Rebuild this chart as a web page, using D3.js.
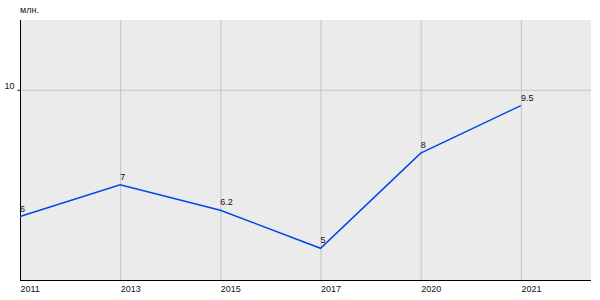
<!DOCTYPE html>
<html>
<head>
<meta charset="utf-8">
<script src="https://cdn.jsdelivr.net/npm/d3@7"></script>
<style>
  body { margin: 0; background: #fff; }
  text { font-family: "Liberation Sans", Arial, sans-serif; fill: #111; }
</style>
</head>
<body>
<svg id="chart" width="600" height="300"></svg>
<script>
const years = ["2011", "2013", "2015", "2017", "2020", "2021"];
const values = [6, 7, 6.2, 5, 8, 9.5];
const valueLabels = ["6", "7", "6.2", "5", "8", "9.5"];
const yTicks = [10];
const unit = "млн.";

const width = 600;
const height = 300;
const margin = { top: 20, right: 9, bottom: 20, left: 20 };

const svg = d3.select("#chart");

const xScale = d3
  .scaleLinear()
  .domain([0, years.length - 0.3])
  .range([margin.left, width - margin.right]);

const yScale = d3
  .scaleLinear()
  .domain([4, 12.2])
  .range([height - margin.bottom, margin.top]);

// plot background
svg
  .append("rect")
  .attr("x", margin.left)
  .attr("y", margin.top)
  .attr("width", width - margin.left - margin.right)
  .attr("height", height - margin.top - margin.bottom)
  .attr("fill", "#ebebeb");

// grid lines
svg
  .append("g")
  .selectAll("line")
  .data(years)
  .enter()
  .append("line")
  .attr("x1", (d, i) => xScale(i) + 0.5)
  .attr("x2", (d, i) => xScale(i) + 0.5)
  .attr("y1", margin.top)
  .attr("y2", height - margin.bottom)
  .attr("stroke", "#c4c4c4");

svg
  .append("g")
  .selectAll("line")
  .data(yTicks)
  .enter()
  .append("line")
  .attr("x1", margin.left)
  .attr("x2", width - margin.right)
  .attr("y1", (d) => yScale(d) + 0.5)
  .attr("y2", (d) => yScale(d) + 0.5)
  .attr("stroke", "#c4c4c4");

// axes
const xAxis = d3
  .axisBottom(xScale)
  .tickValues(d3.range(years.length))
  .tickFormat((i) => years[i])
  .tickSize(0)
  .tickPadding(6);

const yAxis = d3.axisLeft(yScale).tickValues(yTicks).tickSize(3).tickPadding(3);

const gx = svg
  .append("g")
  .attr("transform", `translate(0, ${height - margin.bottom})`)
  .call(xAxis);
gx.select(".domain").attr("stroke", "#000").attr("d", `M${margin.left},0.5H${width - margin.right}`);
gx.selectAll("text")
  .attr("text-anchor", "start")
  .attr("font-size", 9)
  .attr("fill", "#111");

const gy = svg
  .append("g")
  .attr("transform", `translate(${margin.left + 0.5}, 0)`)
  .call(yAxis);
gy.select(".domain").attr("stroke", "#000").attr("d", `M0,${margin.top}V${height - margin.bottom}`);
gy.selectAll("line").attr("stroke", "#000");
gy.selectAll("text").attr("font-size", 9).attr("fill", "#111").attr("dy", "-0.1em");

// unit label
svg
  .append("text")
  .attr("x", margin.left)
  .attr("y", 13)
  .attr("font-size", 9)
  .text(unit);

// line
const line = d3
  .line()
  .x((d, i) => xScale(i))
  .y((d) => yScale(d));

svg
  .append("path")
  .datum(values)
  .attr("d", line)
  .attr("fill", "none")
  .attr("stroke", "#0047e6")
  .attr("stroke-width", 1.5);

// value labels
svg
  .append("g")
  .selectAll("text")
  .data(values)
  .enter()
  .append("text")
  .attr("x", (d, i) => xScale(i))
  .attr("y", (d) => yScale(d) - 5)
  .attr("font-size", 9)
  .text((d, i) => valueLabels[i]);
</script>
</body>
</html>
